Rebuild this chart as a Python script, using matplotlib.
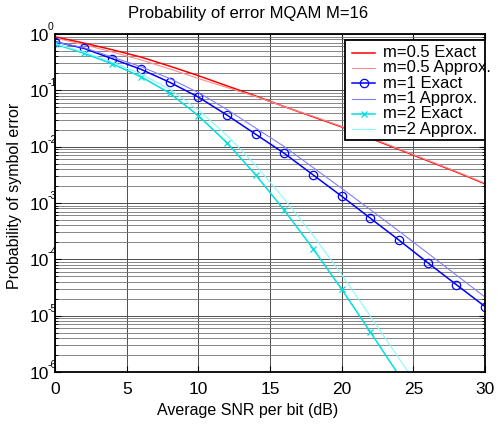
import numpy as np
import matplotlib
matplotlib.use("Agg")
import matplotlib.pyplot as plt
from matplotlib.patches import Rectangle
from matplotlib.lines import Line2D

plt.rcParams['font.family'] = ['Liberation Sans', 'DejaVu Sans']

# average SNR per bit (dB)
snr = [0, 2, 4, 6, 8, 10, 12, 14, 16, 18, 20, 22, 24, 26, 28, 30]

# symbol error probability
m05_exact = [0.891, 0.692, 0.525, 0.389, 0.269, 0.182, 0.120, 0.0794, 0.0513,
             0.0339, 0.0224, 0.0141, 0.00891, 0.00562, 0.00355, 0.00219]
m05_approx = [0.851, 0.646, 0.479, 0.347, 0.240, 0.162, 0.112, 0.0776, 0.0513,
              0.0347, 0.0229, 0.0145, 0.00912, 0.00575, 0.00363, 0.00224]
m1_exact = [0.730, 0.557, 0.363, 0.236, 0.139, 0.0759, 0.0363, 0.0166, 0.00759,
            0.00316, 0.00132, 5.37e-4, 2.19e-4, 8.71e-5, 3.55e-5, 1.45e-5]
m1_approx = [0.720, 0.575, 0.389, 0.263, 0.162, 0.0912, 0.0457, 0.0214, 0.0100,
             0.00427, 0.00182, 7.59e-4, 3.16e-4, 1.29e-4, 5.25e-5, 2.14e-5]
m2_exact = [0.661, 0.457, 0.295, 0.174, 0.0891, 0.0355, 0.0117, 0.00316, 7.41e-4,
            1.55e-4, 2.95e-5, 5.13e-6, 8.71e-7, 1.41e-7, 2.24e-8, 3.55e-9]
m2_approx = [0.676, 0.479, 0.316, 0.195, 0.105, 0.0447, 0.0158, 0.00468, 0.00117,
             2.69e-4, 5.37e-5, 9.77e-6, 1.74e-6, 3.16e-7, 5.25e-8, 8.32e-9]

labels = ['m=0.5 Exact', 'm=0.5 Approx.', 'm=1 Exact', 'm=1 Approx.',
          'm=2 Exact', 'm=2 Approx.']
series = [m05_exact, m05_approx, m1_exact, m1_approx, m2_exact, m2_approx]
colors = ['#ff0000', '#ff8c8c', '#0000ff', '#8080ff', '#00e0e0', '#88fafa']
markers = [None, None, 'o', None, 'x', None]
widths = [1.1, 0.8, 1.1, 0.8, 1.1, 0.8]

ytick_exp = [0, -1, -2, -3, -4, -5, -6]

fig = plt.figure(figsize=(5.01, 4.32), dpi=100)
ax = fig.add_axes([0.1098, 0.1389, 0.8583, 0.7824])

for y, c, mk, lw in zip(series, colors, markers, widths):
    ax.semilogy(snr, y, color=c, lw=lw, marker=mk, ms=6 if mk == 'o' else 4,
                mfc='none', mec=c, mew=0.9)

ax.set_xlim(0, 30)
ax.set_ylim(1e-6, 1)
ax.set_xticks([0, 5, 10, 15, 20, 25, 30])
ax.set_yticks([10.0 ** k for k in ytick_exp])
ax.set_yticklabels([])
ax.grid(True, which='major', color='0.3', lw=0.7)
ax.grid(True, which='minor', axis='y', color='0.45', lw=0.6)
ax.tick_params(which='both', direction='in', top=True, right=True, labelsize=12.5)
ax.tick_params(axis='x', pad=7)
ax.tick_params(which='major', length=4)
ax.tick_params(which='minor', length=2)
for s in ax.spines.values():
    s.set_linewidth(1.3)

# y tick labels in the old style: "10" with a small exponent on top
for k in ytick_exp:
    ax.annotate('10', xy=(0, 10.0 ** k), xycoords=('axes fraction', 'data'),
                xytext=(-4, -1.5), textcoords='offset points', ha='right',
                va='center', fontsize=12.5)
    ax.annotate(str(k), xy=(0, 10.0 ** k), xycoords=('axes fraction', 'data'),
                xytext=(-5.5, 5), textcoords='offset points', ha='left',
                va='center', fontsize=7.5)

ax.text(0.448, 1.047, 'Probability of error MQAM M=16', transform=ax.transAxes,
        fontsize=12, ha='center', va='baseline')
ax.text(0.448, -0.115, 'Average SNR per bit (dB)', transform=ax.transAxes,
        fontsize=11.5, ha='center', va='center')
fig.text(15 / 501, 1 - 196 / 432, 'Probability of symbol error', rotation=90,
         fontsize=11.5, ha='center', va='center')

# legend drawn by hand (text runs past the box like the original)
ax.add_patch(Rectangle((0.674, 0.686), 0.326, 0.296, transform=ax.transAxes,
                       facecolor='white', edgecolor='black', lw=1.3, zorder=5))
for i, (lab, c, mk, lw) in enumerate(zip(labels, colors, markers, widths)):
    yy = 0.945 - i * 0.0453
    ax.add_line(Line2D([0.691, 0.744], [yy, yy], transform=ax.transAxes, color=c,
                       lw=lw, zorder=6))
    if mk:
        ax.add_line(Line2D([0.7175], [yy], transform=ax.transAxes, color=c,
                           marker=mk, ms=6 if mk == 'o' else 4, mfc='none',
                           mew=0.9, zorder=6))
    ax.text(0.763, yy, lab, transform=ax.transAxes, fontsize=12, va='center',
            ha='left', zorder=7, clip_on=False)

fig.savefig('out.png', dpi=100)
